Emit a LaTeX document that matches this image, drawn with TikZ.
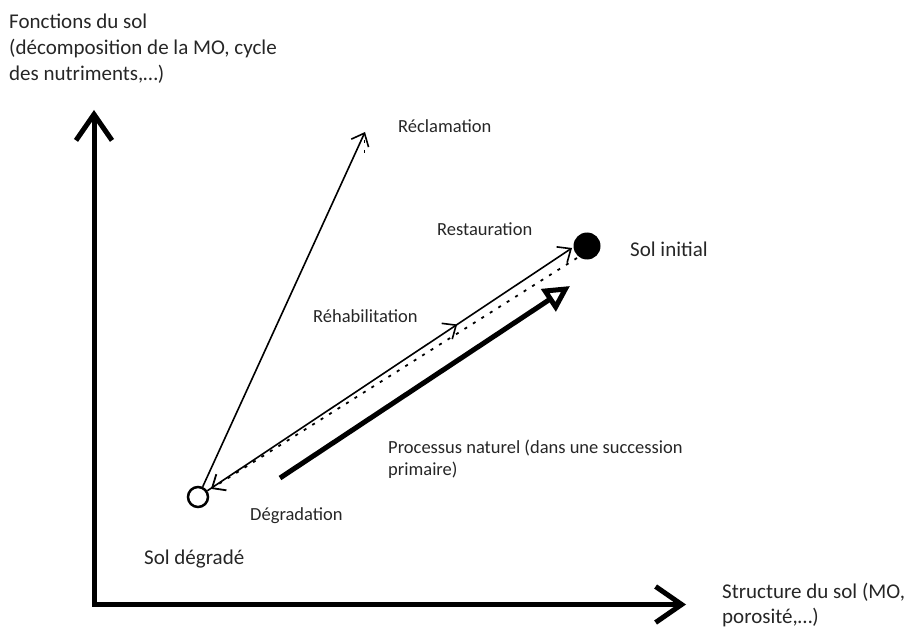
\documentclass[tikz,border=0pt]{standalone}
\usepackage{fontspec}
\setmainfont{Carlito}
\usetikzlibrary{arrows.meta,decorations.markings}

\begin{document}
\begin{tikzpicture}[x=1pt,y=-1pt,
  % multi-line labels are anchored at the baseline of their last line
  big/.style={font=\fontsize{21}{25.6}\selectfont, text=black!85, inner sep=0pt, anchor=base west, align=left},
  small/.style={font=\fontsize{18.5}{22.5}\selectfont, text=black!85, inner sep=0pt, anchor=base west, align=left},
  axis/.style={line width=5pt, line join=miter,
    {Straight Barb[length=26pt,width=36pt]}-{Straight Barb[length=26pt,width=36pt]}},
  barb/.style={-{Straight Barb[length=11pt,width=19pt]}},
  thinline/.style={line width=1.6pt},
  dotline/.style={line width=1.8pt, dash pattern=on 3pt off 7pt},
  thickarrow/.style={line width=5pt, -{Triangle[open,length=26pt,width=26pt]}},
  openstate/.style={circle, draw, line width=2.5pt, fill=white, minimum size=20pt, inner sep=0pt},
  fullstate/.style={circle, fill=black, minimum size=27pt, inner sep=0pt},
  midarrow/.style={postaction={decorate, decoration={markings,
    mark=at position #1 with {\arrow{Straight Barb[length=11pt,width=19pt]}}}}}
]
\useasboundingbox (0,0) rectangle (912,628);

% axes
\coordinate (ytip) at (94,110);
\coordinate (corner) at (94,604.5);
\coordinate (xtip) at (686,604.5);
\draw[axis] (ytip) -- (corner) -- (xtip);

% axis labels
\node[big] (fonctions) at (9,80.2) {Fonctions du sol\\(décomposition de la MO, cycle\\des nutriments,…)};
\node[big] (structure) at (722,623.6) {Structure du sol (MO,\\porosité,…)};

% soil states
\node[openstate] (deg) at (198,497) {};
\node[fullstate] (init) at (587,246) {};
\node[big] (solinit) at (630,257) {Sol initial};
\node[big] (soldeg) at (144,564) {Sol dégradé};

% trajectories
\coordinate (reclTip) at (365,132);
\coordinate (restTip) at (572,248);
\coordinate (degStart) at (577,258);
\coordinate (natStart) at (280,478);
\coordinate (natEnd) at (570,286);
\coordinate (tickA) at (364.5,140);
\coordinate (tickB) at (364.5,155);

\draw[thinline, barb] (deg) -- (reclTip);
\draw[dotline] (tickA) -- (tickB);
\draw[thinline, barb, midarrow=0.685] (deg) -- (restTip);
\draw[dotline, barb, shorten >=4pt] (degStart) -- (deg);
\draw[thickarrow] (natStart) -- (natEnd);

% trajectory labels
\node[small] (reclam) at (398,133) {Réclamation};
\node[small] (restaur) at (437,236) {Restauration};
\node[small] (rehab) at (313,322) {Réhabilitation};
\node[small] (degrad) at (250,520) {Dégradation};
\node[small] (processus) at (388,475.5) {Processus naturel (dans une succession\\primaire)};
\end{tikzpicture}
\end{document}
